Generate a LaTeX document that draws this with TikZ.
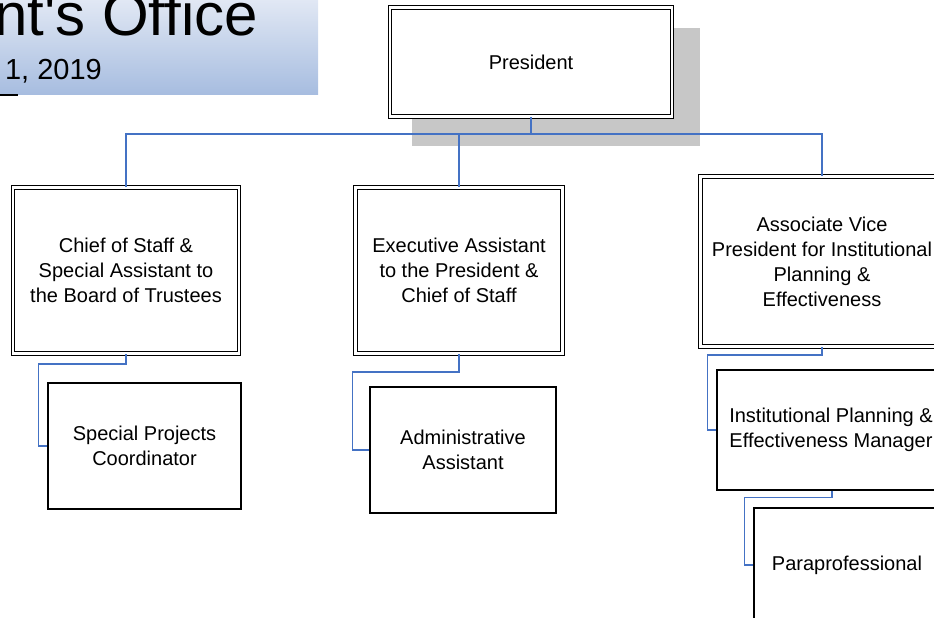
\documentclass[tikz,border=0pt]{standalone}
\usepackage{fontspec}
\setmainfont{Liberation Sans}
\usepackage{tikz}
\usetikzlibrary{calc}
\usepackage{xcolor}
\definecolor{linkblue}{HTML}{4472C4}
\definecolor{bandtop}{HTML}{E4EAF5}
\definecolor{bandbot}{HTML}{A7BDE0}

\begin{document}
\begin{tikzpicture}[x=1pt, y=-1pt,
    headbox/.style={draw, line width=1pt, double, double distance=2.6pt, fill=white, align=center,
        inner sep=0pt, font=\fontsize{20}{25}\selectfont},
    staffbox/.style={draw, line width=1.3pt, fill=white, align=center, inner sep=0pt,
        font=\fontsize{20}{25}\selectfont},
    link/.style={draw=linkblue, line width=1.6pt}]
        \useasboundingbox (0, 0) rectangle (934, 618);

        \fill[top color=bandtop, bottom color=bandbot] (-5, -5) rectangle (318, 94);
        \node[anchor=base east, inner sep=0pt, font=\fontsize{60}{60}\selectfont] (title) at (258, 36)
            {nt\textquotesingle s Office};
        \node[anchor=base east, inner sep=0pt, font=\fontsize{29}{29}\selectfont] (date) at (102, 80) {1, 2019};
        \draw[line width=1.6pt] (0, 95) -- (18, 95);

        \fill[black!22] (412, 28) rectangle (700, 146);
        \node[headbox, minimum width=282, minimum height=109] (pres) at (531, 62) {President};

        \node[headbox, minimum width=226, minimum height=166] (chief) at (126, 270.5)
            {Chief of Staff \&\\Special Assistant to\\the Board of Trustees};
        \node[headbox, minimum width=207, minimum height=166] (exec) at (459, 270.5)
            {Executive Assistant\\to the President \&\\ Chief of Staff};
        \node[headbox, minimum width=243, minimum height=170] (avp) at (822, 261.5)
            {Associate Vice\\President for Institutional\\Planning \&\\Effectiveness};

        \node[staffbox, minimum width=193, minimum height=126] (spc) at (144.5, 446)
            {Special Projects\\Coordinator};
        \node[staffbox, minimum width=186, minimum height=126] (admin) at (463, 450)
            {Administrative\\Assistant};
        \node[staffbox, minimum width=228, minimum height=120] (ipm) at (831, 430)
            {Institutional Planning \&\\Effectiveness Manager};
        \node[staffbox, minimum width=186, minimum height=114] (para) at (847, 565)
            {Paraprofessional};

        \draw[link] (pres.south) -- ++(0, 17) coordinate (bar);
        \draw[link] (chief.north) |- (bar) -| (avp.north);
        \draw[link] (exec.north) -- (exec.north |- bar);

        \draw[link] (chief.south) -- ++(0, 10) -| ([xshift=-9pt]spc.west) -- (spc.west);
        \draw[link] (exec.south) -- ++(0, 18) -| ([xshift=-17pt]admin.west) -- (admin.west);
        \draw[link] (avp.south) -- ++(0, 8) -| ([xshift=-9pt]ipm.west) -- (ipm.west);
        \draw[link] ([xshift=1pt]ipm.south) -- ++(0, 7) -| ([xshift=-9pt]para.west) -- (para.west);
    \end{tikzpicture}
\end{document}
